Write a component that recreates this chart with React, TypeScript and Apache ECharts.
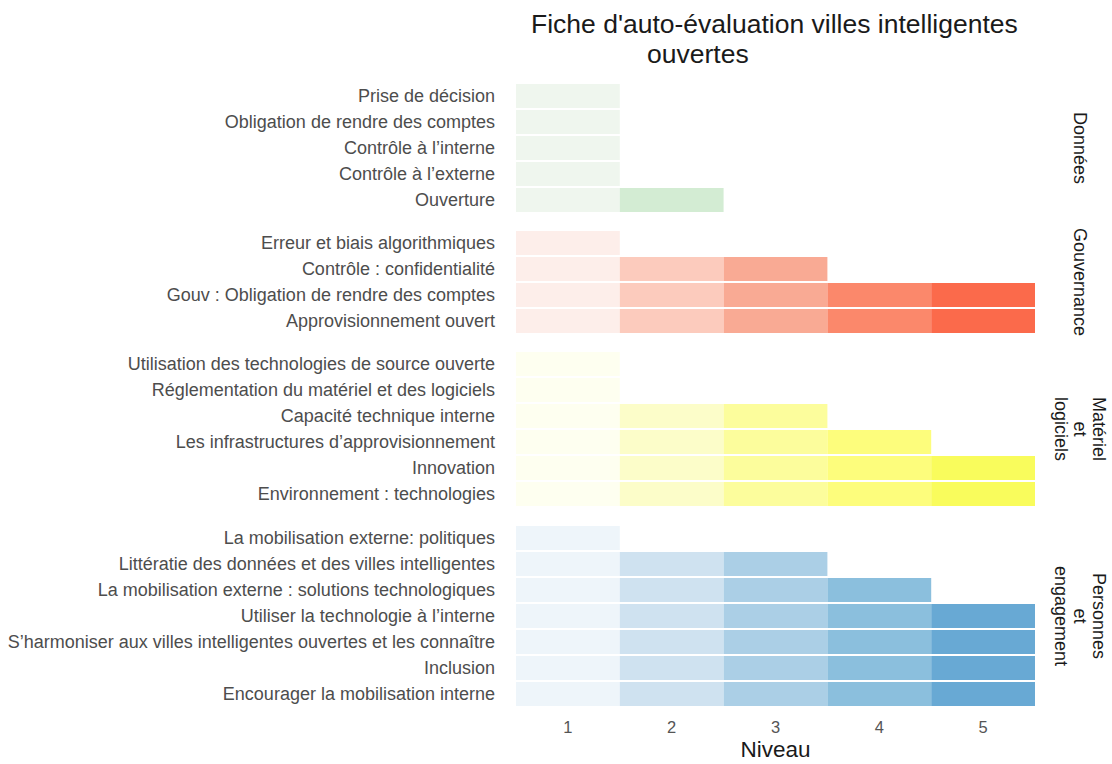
import React, { useEffect, useRef } from "react";
import * as echarts from "echarts";

const levels = ["1", "2", "3", "4", "5"];

const donneesCats = [
  "Prise de décision",
  "Obligation de rendre des comptes",
  "Contrôle à l’interne",
  "Contrôle à l’externe",
  "Ouverture",
];
const donneesVals = [1, 1, 1, 1, 2];

const gouvCats = [
  "Erreur et biais algorithmiques",
  "Contrôle : confidentialité",
  "Gouv : Obligation de rendre des comptes",
  "Approvisionnement ouvert",
];
const gouvVals = [1, 3, 5, 5];

const materielCats = [
  "Utilisation des technologies de source ouverte",
  "Réglementation du matériel et des logiciels",
  "Capacité technique interne",
  "Les infrastructures d’approvisionnement",
  "Innovation",
  "Environnement : technologies",
];
const materielVals = [1, 1, 3, 4, 5, 5];

const personnesCats = [
  "La mobilisation externe: politiques",
  "Littératie des données et des villes intelligentes",
  "La mobilisation externe : solutions technologiques",
  "Utiliser la technologie à l’interne",
  "S’harmoniser aux villes intelligentes ouvertes et les connaître",
  "Inclusion",
  "Encourager la mobilisation interne",
];
const personnesVals = [1, 3, 4, 5, 5, 5, 5];

const greens = ["#eff6ee", "#d3ecd3", "#b5deb3", "#8fcc8c", "#66b566"];
const reds = ["#fdeeea", "#fccbbd", "#f9aa94", "#fb886b", "#fb6a4b"];
const yellows = ["#fefff0", "#fcfdc9", "#fcfd9c", "#fdfd7c", "#f9fc5c"];
const blues = ["#eef5fa", "#cfe2f0", "#abcfe6", "#8bbfdd", "#68a9d4"];

const panels = [
  { name: "Données", cats: donneesCats, vals: donneesVals, colors: greens, top: 83 },
  { name: "Gouvernance", cats: gouvCats, vals: gouvVals, colors: reds, top: 230 },
  { name: "Matériel\net\nlogiciels", cats: materielCats, vals: materielVals, colors: yellows, top: 351 },
  { name: "Personnes\net\nengagement", cats: personnesCats, vals: personnesVals, colors: blues, top: 525 },
];

const ROW = 26;
const LEFT = 516;
const RIGHT = 77;
const FONT = "Liberation Sans";

export default function App() {
  const ref = useRef<HTMLDivElement>(null);
  useEffect(() => {
    document.body.style.margin = "0";
    const chart = echarts.init(ref.current!, null, { renderer: "svg" });
    const grids: any[] = [];
    const xAxes: any[] = [];
    const yAxes: any[] = [];
    const series: any[] = [];
    const graphics: any[] = [];
    panels.forEach((p, i) => {
      const h = p.cats.length * ROW;
      grids.push({
        left: LEFT,
        right: RIGHT,
        top: p.top,
        height: h,
        containLabel: false,
        outerBoundsMode: "none",
      });
      const last = i === panels.length - 1;
      xAxes.push({
        type: "category",
        gridIndex: i,
        data: levels,
        axisLine: { show: false },
        axisTick: { show: false },
        splitLine: { show: false },
        axisLabel: {
          show: last,
          color: "#555",
          fontSize: 16.5,
          fontFamily: FONT,
          margin: 11,
        },
        name: last ? "Niveau" : "",
        nameLocation: "middle",
        nameGap: 31,
        nameTextStyle: { color: "#1a1a1a", fontSize: 22.5, fontFamily: FONT },
      });
      yAxes.push({
        type: "category",
        gridIndex: i,
        data: p.cats,
        inverse: true,
        axisLine: { show: false },
        axisTick: { show: false },
        splitLine: { show: false },
        axisLabel: {
          color: "#4d4d4d",
          fontSize: 18,
          fontFamily: FONT,
          margin: 21,
        },
      });
      const data: any[] = [];
      p.vals.forEach((v, r) => {
        for (let k = 1; k <= v; k++) data.push([k - 1, r, k]);
      });
      const colors = p.colors;
      series.push({
        type: "custom",
        xAxisIndex: i,
        yAxisIndex: i,
        encode: { x: 0, y: 1 },
        data,
        renderItem: (params: any, api: any) => {
          const c = api.coord([api.value(0), api.value(1)]);
          const s = api.size([1, 1]);
          return {
            type: "rect",
            shape: { x: c[0] - s[0] / 2, y: c[1] - s[1] / 2 + 1, width: s[0], height: s[1] - 2 },
            style: { fill: colors[api.value(2) - 1] },
          };
        },
      });
      graphics.push({
        type: "text",
        x: 1080,
        y: p.top + h / 2,
        rotation: -Math.PI / 2,
        style: {
          text: p.name,
          fill: "#1a1a1a",
          fontSize: 18,
          fontFamily: FONT,
          align: "center",
          verticalAlign: "middle",
          lineHeight: 19,
        },
      });
    });
    graphics.push({
      type: "text",
      x: 531,
      y: 24,
      style: {
        text: "Fiche d'auto-évaluation villes intelligentes",
        fill: "#1a1a1a",
        fontSize: 26.5,
        fontFamily: FONT,
        align: "left",
        verticalAlign: "middle",
      },
    });
    graphics.push({
      type: "text",
      x: 647,
      y: 54,
      style: {
        text: "ouvertes",
        fill: "#1a1a1a",
        fontSize: 26.5,
        fontFamily: FONT,
        align: "left",
        verticalAlign: "middle",
      },
    });
    chart.setOption({
      animation: false,
      backgroundColor: "#ffffff",
      grid: grids,
      xAxis: xAxes,
      yAxis: yAxes,
      series,
      graphic: graphics,
    });
    return () => chart.dispose();
  }, []);
  return <div ref={ref} style={{ width: 1112, height: 764 }} />;
}
